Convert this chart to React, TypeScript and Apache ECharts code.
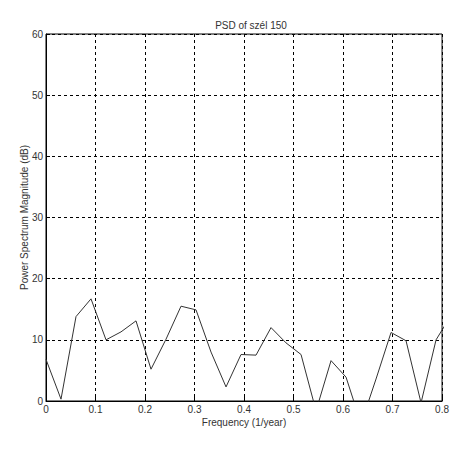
import React, { useEffect, useRef } from "react";
import * as echarts from "echarts";

const freqIndex = [0,1,2,3,4,5,6,7,8,9,10,11,12,13,14,15,16,17,18,19,20,21,22,23,24,25,26,27];
const psdValues = [6.8,0.3,13.8,16.7,10.0,11.3,13.1,5.2,10.1,15.5,14.9,8.0,2.3,7.6,7.5,12.0,9.5,7.6,-1.6,6.6,3.9,-3.7,3.6,11.2,9.85,-0.3,10.0,14.0];
const freqStep = 1 / 33;
const xTicks = [0, 0.1, 0.2, 0.3, 0.4, 0.5, 0.6, 0.7, 0.8];
const yTicks = [0, 10, 20, 30, 40, 50, 60];

export default function App() {
  const ref = useRef<HTMLDivElement>(null);
  useEffect(() => {
    const chart = echarts.init(ref.current!, null, { renderer: "svg" });
    const data = freqIndex.map((k, i) => [k * freqStep, psdValues[i]]);
    const font = "Liberation Sans, Arial, sans-serif";
    chart.setOption({
      animation: false,
      backgroundColor: "#fff",
      title: {
        text: "PSD of szél 150",
        left: 246,
        top: 15,
        textAlign: "center",
        textStyle: { fontSize: 10, fontWeight: "normal", color: "#333", fontFamily: font },
      },
      grid: {
        left: 46, right: 6, top: 34, bottom: 50,
        show: true, borderColor: "#000", borderWidth: 1, backgroundColor: "#fff",
      },
      xAxis: {
        type: "value", min: 0, max: 0.8, interval: 0.1,
        name: "Frequency (1/year)", nameLocation: "middle", nameGap: 16,
        nameMoveOverlap: false,
        nameTextStyle: { fontSize: 10, color: "#333", fontFamily: font },
        axisLine: { show: true, lineStyle: { color: "#000" } },
        axisTick: { show: true, inside: true, length: 4, lineStyle: { color: "#000" } },
        axisLabel: {
          fontSize: 10, color: "#333", fontFamily: font, margin: 3,
          formatter: (v: number) => (xTicks.some(t => Math.abs(t - v) < 1e-9) ? String(Math.round(v * 10) / 10) : ""),
        },
        splitLine: { show: true, lineStyle: { color: "#000", type: [3, 3], width: 1 } },
      },
      yAxis: {
        type: "value", min: 0, max: 60, interval: 10,
        name: "Power Spectrum Magnitude (dB)", nameLocation: "middle", nameGap: 17,
        nameMoveOverlap: false,
        nameTextStyle: { fontSize: 10, color: "#333", fontFamily: font },
        axisLine: { show: true, lineStyle: { color: "#000" } },
        axisTick: { show: true, inside: true, length: 4, lineStyle: { color: "#000" } },
        axisLabel: {
          fontSize: 10, color: "#333", fontFamily: font, margin: 3,
          formatter: (v: number) => (yTicks.includes(v) ? String(v) : ""),
        },
        splitLine: { show: true, lineStyle: { color: "#000", type: [3, 3], width: 1 } },
      },
      series: [
        {
          type: "line",
          data,
          showSymbol: false,
          clip: true,
          lineStyle: { color: "#333", width: 1 },
        },
      ],
    });
    return () => chart.dispose();
  }, []);
  return <div ref={ref} style={{ width: 452, height: 451, position: "absolute", left: 0, top: 0 }} />;
}
